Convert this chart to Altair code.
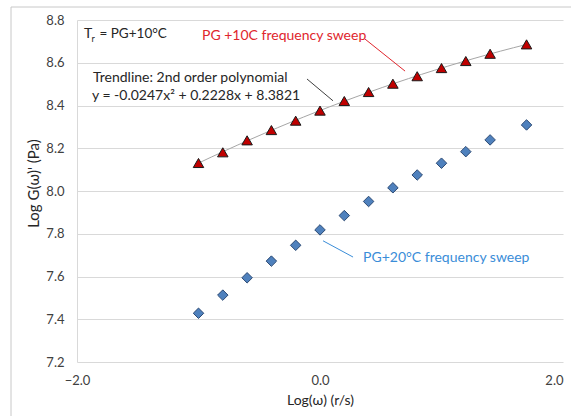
import altair as alt
import pandas as pd

# ---- data ----
log_w = [-1.0, -0.8, -0.6, -0.4, -0.2, 0.0, 0.2, 0.4, 0.6, 0.8, 1.0, 1.2, 1.4, 1.7]
g_pg10 = [8.131, 8.181, 8.237, 8.285, 8.329, 8.376, 8.421, 8.463, 8.502, 8.537, 8.575, 8.608, 8.642, 8.686]
g_pg20 = [7.428, 7.513, 7.594, 7.672, 7.746, 7.818, 7.885, 7.951, 8.015, 8.075, 8.130, 8.184, 8.239, 8.309]

y_ticks = [7.2, 7.4, 7.6, 7.8, 8.0, 8.2, 8.4, 8.6, 8.8]
x_ticks = [-2.0, 0.0, 2.0]

# annotation texts (data coordinates)
ann_text = ["PG +10C frequency sweep", "Trendline: 2nd order polynomial",
            "y = -0.0247x\u00b2 + 0.2228x + 8.3821", "PG+20\u00b0C  frequency sweep",
            "T", "= PG+10\u00b0C", "r"]
ann_x = [-0.971, -1.868, -1.877, 0.354, -1.942, -1.815, -1.880]
ann_y = [8.725, 8.527, 8.443, 7.687, 8.735, 8.735, 8.712]
ann_color = ["#e0262d", "#262626", "#262626", "#3a8dd8", "#262626", "#262626", "#262626"]
ann_size = [14, 14, 14, 14, 14, 13.5, 9]

# leader lines
lead_x = [0.370, -0.107, 0.025]
lead_x2 = [0.700, 0.107, 0.272]
lead_y = [8.711, 8.524, 7.767]
lead_y2 = [8.561, 8.422, 7.691]
lead_color = ["#e0262d", "#404040", "#3a8dd8"]

FONT = "Lato"

df10 = pd.DataFrame({"x": log_w, "y": g_pg10})
df20 = pd.DataFrame({"x": log_w, "y": g_pg20})
ann = pd.DataFrame({"x": ann_x, "y": ann_y, "t": ann_text, "c": ann_color, "s": ann_size})
lead = pd.DataFrame({"x": lead_x, "x2": lead_x2, "y": lead_y, "y2": lead_y2, "c": lead_color})

xs = alt.Scale(domain=[-2, 2], nice=False, zero=False)
ys = alt.Scale(domain=[7.2, 8.8], nice=False, zero=False)

xaxis = alt.Axis(values=x_ticks, format=".1f", grid=False, ticks=False, domain=False, labelFlush=False,
                 labelAlign={"expr": "datum.value >= 2 ? 'right' : 'center'"},
                 labelFont=FONT, labelFontSize=13, labelColor="#404040", labelPadding=12,
                 title="Log(\u03c9) (r/s)", titleFont=FONT, titleFontSize=14, titleFontWeight="normal",
                 titleColor="#262626", titleX=243, titleY=38, titleBaseline="middle")
yaxis = alt.Axis(values=y_ticks, format=".1f", grid=True, gridColor="#d9d9d9", ticks=False,
                 domain=True, domainColor="#d9d9d9", labelFlush=False,
                 labelFont=FONT, labelFontSize=13, labelColor="#404040", labelPadding=13,
                 title="Log G(\u03c9)' (Pa)", titleFont=FONT, titleFontSize=15, titleFontWeight="normal",
                 titleColor="#262626", titleX=-44, titleY=163, titleBaseline="middle", titleAngle=-90)

base_x = alt.X("x:Q", scale=xs, axis=xaxis)
base_y = alt.Y("y:Q", scale=ys, axis=yaxis)

trend = alt.Chart(df10).transform_regression(
    "x", "y", method="poly", order=2, extent=[-1.0, 1.7]
).mark_line(color="#a6a6a6", strokeWidth=1).encode(x=base_x, y=base_y)

tri = alt.Chart(df10).mark_point(shape="triangle-up", filled=True, fill="#c00000",
                                 stroke="#1a1a1a", strokeWidth=1, size=110, opacity=1).encode(
    x=alt.X("x:Q", scale=xs), y=alt.Y("y:Q", scale=ys))

dia = alt.Chart(df20).mark_point(shape="diamond", filled=True, fill="#4f81bd",
                                 stroke="#2c4a74", strokeWidth=1, size=110, opacity=1).encode(
    x=alt.X("x:Q", scale=xs), y=alt.Y("y:Q", scale=ys))

leaders = alt.Chart(lead).mark_rule(strokeWidth=1).encode(
    x=alt.X("x:Q", scale=xs), x2="x2:Q", y=alt.Y("y:Q", scale=ys), y2="y2:Q",
    color=alt.Color("c:N", scale=None))

texts = alt.Chart(ann).mark_text(align="left", baseline="middle", font=FONT).encode(
    x=alt.X("x:Q", scale=xs), y=alt.Y("y:Q", scale=ys), text="t:N",
    color=alt.Color("c:N", scale=None), size=alt.Size("s:Q", scale=None))

frame = alt.Chart(pd.DataFrame({"a": [0]})).mark_rule(color="#c8c8c8", strokeWidth=1, clip=False).encode(
    x=alt.value(-66), y=alt.value(-13), y2=alt.value(420))
frame_top = alt.Chart(pd.DataFrame({"a": [0]})).mark_rule(color="#c8c8c8", strokeWidth=1, clip=False).encode(
    x=alt.value(-66), x2=alt.value(520), y=alt.value(-13))

chart = alt.layer(trend, tri, dia, leaders, texts, frame, frame_top).properties(
    width=486, height=342,
    autosize=alt.AutoSizeParams(type="none"),
    padding={"left": 77, "top": 20, "right": 8, "bottom": 54},
    background="white",
).configure_view(stroke=None)

chart.save("out.html", embed_options={"renderer": "svg", "actions": False})
